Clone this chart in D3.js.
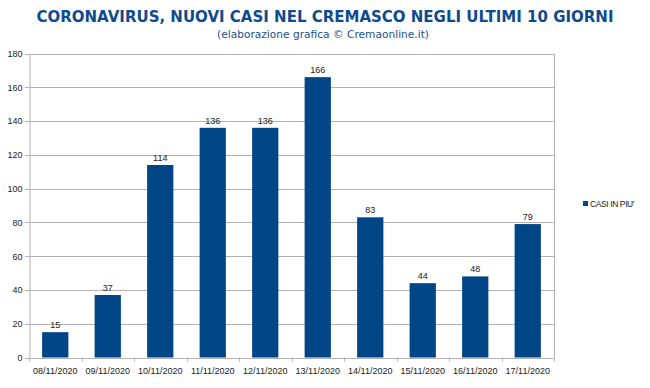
<!DOCTYPE html>
<html>
<head>
<meta charset="utf-8">
<script src="https://cdn.jsdelivr.net/npm/d3@7"></script>
<style>
  body { margin: 0; background: #fff; }
  svg { display: block; }
</style>
</head>
<body>
<svg id="chart" width="650" height="388"></svg>
<script>
// Nuovi casi nel Cremasco - ultimi 10 giorni
const days = ['08/11/2020', '09/11/2020', '10/11/2020', '11/11/2020', '12/11/2020',
              '13/11/2020', '14/11/2020', '15/11/2020', '16/11/2020', '17/11/2020'];
const newCases = [15, 37, 114, 136, 136, 166, 83, 44, 48, 79];
const yTicks = [0, 20, 40, 60, 80, 100, 120, 140, 160, 180];
const seriesName = "CASI IN PIU'";

const svg = d3.select('#chart');
const plotLeft = 29, plotRight = 554, plotTop = 53.5, plotBottom = 357.5;
const barColor = '#004586';
const gridColor = '#b3b3b3';

const x = d3.scaleBand().domain(days).range([plotLeft, plotRight]).paddingInner(0.5).paddingOuter(0.25);
const y = d3.scaleLinear().domain([0, 180]).range([plotBottom, plotTop]);

// title
svg.append('text')
    .attr('x', 325).attr('y', 22)
    .attr('text-anchor', 'middle')
    .attr('font-family', 'DejaVu Sans, Verdana, sans-serif')
    .attr('font-weight', 'bold')
    .attr('font-size', 16.5)
    .attr('fill', '#0e4b8d')
    .attr('textLength', 577)
    .attr('lengthAdjust', 'spacingAndGlyphs')
    .text('CORONAVIRUS, NUOVI CASI NEL CREMASCO NEGLI ULTIMI 10 GIORNI');

svg.append('text')
    .attr('x', 323).attr('y', 38)
    .attr('text-anchor', 'middle')
    .attr('font-family', 'DejaVu Sans, Verdana, sans-serif')
    .attr('font-size', 11)
    .attr('fill', '#1d4f8f')
    .attr('textLength', 212)
    .attr('lengthAdjust', 'spacingAndGlyphs')
    .text('(elaborazione grafica \u00A9 Cremaonline.it)');

// grid lines
svg.append('g')
  .selectAll('line')
  .data(yTicks)
  .join('line')
    .attr('x1', plotLeft - 4).attr('x2', plotRight)
    .attr('y1', d => Math.round(y(d)) + 0.5).attr('y2', d => Math.round(y(d)) + 0.5)
    .attr('stroke', gridColor).attr('stroke-width', 1);

// y axis
const yAxis = svg.append('g')
    .attr('transform', `translate(${plotLeft + 0.5},0)`)
    .call(d3.axisLeft(y).tickValues(yTicks).tickSize(0).tickPadding(7));
yAxis.select('.domain').attr('stroke', gridColor);
yAxis.selectAll('text')
    .attr('font-family', 'Liberation Sans, Arial, sans-serif')
    .attr('font-size', 9)
    .attr('fill', '#222');

// right border
svg.append('line')
    .attr('x1', plotRight + 0.5).attr('x2', plotRight + 0.5)
    .attr('y1', plotTop).attr('y2', plotBottom)
    .attr('stroke', gridColor);

// x axis
const xAxis = svg.append('g')
    .attr('transform', `translate(0,${Math.round(plotBottom) + 0.5})`)
    .call(d3.axisBottom(x).tickSize(0).tickPadding(9));
xAxis.select('.domain').remove();
xAxis.selectAll('text')
    .attr('font-family', 'Liberation Sans, Arial, sans-serif')
    .attr('font-size', 9)
    .attr('fill', '#222');

// category separators on x axis
const step = x.step();
svg.append('g')
  .selectAll('line')
  .data(d3.range(days.length + 1))
  .join('line')
    .attr('x1', i => Math.round(plotLeft + i * step) + 0.5)
    .attr('x2', i => Math.round(plotLeft + i * step) + 0.5)
    .attr('y1', plotBottom).attr('y2', plotBottom + 4)
    .attr('stroke', gridColor);

// bars
svg.append('g')
  .selectAll('rect')
  .data(newCases)
  .join('rect')
    .attr('x', (d, i) => x(days[i]))
    .attr('y', d => y(d))
    .attr('width', x.bandwidth())
    .attr('height', d => y(0) - y(d))
    .attr('fill', barColor);

// value labels
svg.append('g')
  .selectAll('text')
  .data(newCases)
  .join('text')
    .attr('x', (d, i) => x(days[i]) + x.bandwidth() / 2)
    .attr('y', d => y(d) - 4)
    .attr('text-anchor', 'middle')
    .attr('font-family', 'Liberation Sans, Arial, sans-serif')
    .attr('font-size', 9)
    .attr('fill', '#222')
    .text(d => d);

// legend
svg.append('rect')
    .attr('x', 583).attr('y', 201)
    .attr('width', 5).attr('height', 5)
    .attr('fill', barColor);
svg.append('text')
    .attr('x', 590).attr('y', 206.5)
    .attr('font-family', 'Liberation Sans, Arial, sans-serif')
    .attr('font-size', 8.5)
    .attr('letter-spacing', -0.4)
    .attr('fill', '#222')
    .text(seriesName);
</script>
</body>
</html>
